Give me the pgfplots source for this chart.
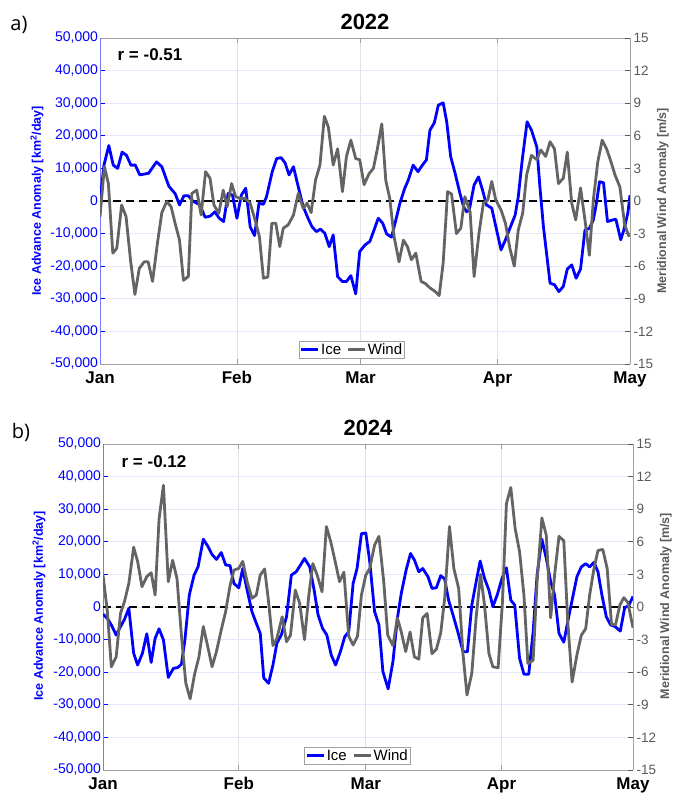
\documentclass[border=0pt]{standalone}
\usepackage{pgfplots}
\pgfplotsset{compat=1.18}
\usepackage{fontspec}
\setmainfont{Liberation Sans}
\newfontfamily\panelfont{Open Sans}
\definecolor{iceblue}{RGB}{0,0,255}
\definecolor{windgray}{RGB}{100,100,100}
\definecolor{rightgray}{RGB}{90,90,90}
\definecolor{gridh}{RGB}{231,231,250}
\definecolor{gridv}{RGB}{226,226,226}
\definecolor{boxgray}{RGB}{160,160,160}
\definecolor{spineblue}{RGB}{120,120,255}

\pgfplotsset{
  common/.style={
    scale only axis, width=530pt, height=326pt, anchor=south west,
    tick align=inside, major tick length=5pt, clip=true,
    scaled y ticks=false, scaled x ticks=false,
  },
  iceaxis/.style={
    common,
    ymin=-50000, ymax=50000,
    ytick={-50000,-40000,-30000,-20000,-10000,0,10000,20000,30000,40000,50000},
    yticklabels={{-50,000},{-40,000},{-30,000},{-20,000},{-10,000},{0},{10,000},{20,000},{30,000},{40,000},{50,000}},
    axis x line*=box, axis y line*=left,
    x axis line style={boxgray, line width=0.8pt, -},
    y axis line style={spineblue, line width=0.8pt, -},
    xtick style={boxgray, line width=0.8pt},
    ytick style={iceblue, line width=0.8pt},
    xmajorgrids, ymajorgrids,
    x grid style={gridv, line width=0.8pt},
    y grid style={gridh, line width=0.8pt},
    yticklabel style={text=iceblue, font=\fontsize{14}{14}\selectfont, xshift=1.5pt},
    xticklabel style={font=\fontsize{17}{17}\selectfont\bfseries, yshift=-4pt},
  },
  windaxis/.style={
    common,
    ymin=-15, ymax=15,
    ytick={-15,-12,-9,-6,-3,0,3,6,9,12,15},
    yticklabels={-15,-12,-9,-6,-3,0,3,6,9,12,15},
    axis x line=none, axis y line*=right,
    y axis line style={boxgray, line width=0.8pt, -},
    ytick style={rightgray, line width=0.8pt},
    yticklabel style={text=rightgray, font=\fontsize{13.5}{13.5}\selectfont},
    legend columns=2,
    legend image code/.code={\draw[##1] (0pt,0pt) -- (17pt,0pt);},
    legend style={anchor=south, draw=boxgray, line width=0.6pt, fill=white,
      font=\fontsize{15}{15}\selectfont, inner xsep=1pt, inner ysep=0.5pt,
      nodes={inner sep=1.5pt},
      /tikz/every even column/.append style={column sep=4pt}},
  },
  iceline/.style={iceblue, line width=2.8pt, line join=round},
  windline/.style={windgray, line width=2.8pt, line join=round},
}

\begin{document}
\begin{tikzpicture}[x=1pt,y=1pt]
\useasboundingbox (0,0) rectangle (672,795);

% ---------------- panel a) 2022 ----------------
\begin{axis}[iceaxis, at={(100pt,431pt)}, xmin=0, xmax=120,
  xtick={0,31,59,90,120}, xticklabels={Jan,Feb,Mar,Apr,May}]
\addplot[black, line width=1.5pt, dash pattern=on 8pt off 5pt] coordinates {(0,0) (120,0)};
\addplot[iceline] coordinates {
(0,0) (0.9,11000) (2,17000) (3,11000) (4,10000) (5,15000) (6,14000) (7,11000) (8,11000) (9,8000)
(11,8500) (12.8,12000) (14,10500) (15.6,4500) (17,2300) (18,-1200) (19,1600) (20,1600) (21,0)
(22.6,-1200) (23.8,-5000) (25,-4600) (26,-3300) (27,-5300) (28,-6300) (29,2300) (30,1800)
(31,-5300) (32,1800) (33,3900) (34,-7900) (35,-10600) (36,-700) (37,-1000) (37.7,1300) (39,9000)
(40,13000) (41,13300) (41.9,11700) (42.8,8000) (43.8,10500) (44.7,5400) (46,-1700) (47.1,-5300)
(48,-7900) (49,-9400) (49.9,-8600) (50.9,-9900) (51.9,-14000) (52.8,-10400) (53.8,-23200)
(54.9,-24700) (55.8,-24700) (56.8,-22900) (57.9,-28500) (58.8,-15500) (60,-13500) (61.1,-12400)
(62.1,-8700) (63,-5300) (64,-6800) (64.9,-10100) (66,-11100) (66.9,-6300) (67.9,-700) (69,3900)
(69.8,6400) (70.9,11000) (72,9000) (73,11000) (73.9,12600) (74.7,21700) (75.7,24000) (76.6,29400)
(77.7,30100) (78.5,24300) (79.4,13600) (80.4,8500) (81.5,2300) (82.3,-1700) (83,-3300) (83.6,-2800)
(84.7,4900) (85.7,7400) (86.6,3400) (87.5,-1200) (88.7,-2200) (89.8,-8900) (90.8,-15000)
(91.8,-11900) (92.8,-8400) (94,-4300) (94.7,1300) (95.6,12600) (96.7,24300) (97.7,21700)
(98.9,16600) (99.6,4400) (100.4,-7900) (101.1,-16000) (101.9,-25200) (102.9,-25700) (103.9,-27800)
(104.9,-26200) (105.8,-20900) (106.8,-19600) (107.8,-23700) (108.8,-20900) (109.8,-8900)
(110.8,-8400) (111.7,-5800) (112.4,-700) (113.1,5900) (114,5600) (114.9,-6300) (116.1,-5800)
(116.8,-5600) (117.9,-11900) (118.6,-8900) (119.5,-3800) (120,1800)
};
\end{axis}
\begin{axis}[windaxis, at={(100pt,431pt)}, xmin=0, xmax=120,
  legend style={at={(0.475,0.018)}}]
\addlegendimage{iceline}
\addlegendentry{Ice}
\addplot[windline] coordinates {
(0,-1.44) (1,3.15) (1.9,1.6) (2.9,-4.8) (3.8,-4.35) (4.9,-0.37) (5.9,-1.44) (6.9,-5.4) (7.9,-8.6)
(8.9,-6.2) (10,-5.6) (10.9,-5.6) (11.9,-7.4) (13,-3.9) (14,-1.07) (15.1,-0.06) (16.1,-0.52)
(17,-2.05) (18,-3.6) (18.9,-7.3) (20,-6.95) (20.8,0.7) (21.9,1.0) (22.9,-1.29) (23.9,2.7)
(24.9,2.1) (25.8,-0.37) (26.9,-1.13) (27.9,1.0) (28.8,-0.52) (29.8,1.6) (30.7,0.4) (31.7,0.24)
(32.8,0.24) (34,-0.2) (35.1,-1.74) (36.1,-3.3) (37,-7.1) (38,-7) (38.9,-2.05) (39.8,-2.05)
(40.7,-4.2) (41.5,-2.5) (42.6,-2.2) (43.8,-1.3) (44.9,0.7) (46,-0.67) (46.9,-0.2) (47.8,-1.07)
(48.8,1.93) (49.8,3.3) (50.8,7.8) (51.7,6.8) (52.8,3.3) (53.8,4.8) (54.9,0.86) (55.8,4.1)
(56.8,5.6) (57.9,3.9) (58.8,3.8) (59.8,1.5) (60.9,2.5) (61.9,3.0) (62.8,4.8) (63.8,7.1) (64.7,1.9)
(65.6,0.24) (66.6,-3.3) (67.7,-5.6) (68.7,-3.6) (69.6,-4.2) (70.5,-5.4) (71.5,-4.8) (72.7,-7.4)
(73.7,-7.6) (74.7,-8) (75.8,-8.3) (76.8,-8.7) (77.7,-5.7) (78.7,0.86) (79.6,0.64) (80.7,-3.0)
(81.7,-2.5) (82.6,0.4) (83.8,-1.0) (84.7,-6.95) (85.8,-3.0) (86.8,-0.2) (87.8,0.1) (88.7,1.8)
(89.6,0.1) (90.8,-0.83) (91.8,-2.05) (92.8,-4.35) (93.8,-6.0) (94.7,-2.66) (95.7,-1.13) (96.6,2.4)
(97.7,4.2) (98.9,3.8) (99.8,4.7) (100.9,4.1) (101.9,5.45) (102.9,4.8) (103.8,1.6) (104.9,2.1)
(105.8,4.5) (106.8,-0.2) (107.7,-1.74) (108.8,1.2) (109.8,-1.74) (110.8,-5.0) (111.7,0.1)
(112.7,3.6) (113.7,5.6) (114.7,4.8) (115.7,3.6) (116.6,2.4) (117.7,1.3) (118.8,-2.2) (119.8,-3.3)
};
\addlegendentry{Wind}
\end{axis}

% ---------------- panel b) 2024 ----------------
\begin{axis}[iceaxis, at={(103pt,25pt)}, xmin=0, xmax=121,
  xtick={0,31,60,91,121}, xticklabels={Jan,Feb,Mar,Apr,May}]
\addplot[black, line width=1.5pt, dash pattern=on 8pt off 5pt] coordinates {(0,0) (121,0)};
\addplot[iceline] coordinates {
(0,-2200) (1,-3500) (1.9,-5500) (3,-8600) (4,-6000) (4.9,-3800) (5.9,-400) (7,-14200) (7.9,-17800)
(9,-14200) (10,-8200) (11,-17000) (11.9,-9600) (12.8,-6700) (13.8,-10100) (14.9,-21600)
(16.1,-18800) (17,-18600) (17.9,-17600) (18.7,-10100) (19.7,3700) (20.8,9800) (21.7,12300)
(22.9,20800) (24,18500) (24.9,16100) (25.9,14600) (27,16700) (28,12900) (29,12700) (29.9,7200)
(31,5900) (31.9,11800) (32.9,5200) (34,-1400) (35,-5000) (35.9,-8100) (36.7,-21800) (37.8,-23400)
(38.8,-17800) (39.7,-11100) (40.7,-8600) (41.9,-3000) (43,9800) (44.1,10800) (45.1,12900)
(46,14900) (47.2,12300) (48.2,5200) (49.1,-2400) (50.1,-6500) (51.1,-8600) (52.1,-14700)
(53.1,-17800) (54.2,-13700) (55.2,-9100) (56.1,-7600) (57.1,7200) (58,11800) (59,22500)
(60,22700) (60.9,13900) (62,-1400) (63,-5500) (63.9,-19800) (65.1,-25100) (66.2,-16700)
(67.2,-3500) (68.1,4200) (69.2,11300) (70.2,16400) (71.1,14400) (72.1,10800) (73,11800)
(74.2,9300) (75.1,5700) (76.1,5900) (77.1,9600) (78,8600) (78.9,2100) (79.9,-2400) (81,-7600)
(82.2,-13700) (83.2,-13700) (84.2,600) (85.2,7800) (86.1,14100) (87.1,8800) (88.1,5200) (89,100)
(90,3700) (91.1,8800) (92.1,12000) (93.1,2100) (94,600) (95.1,-15700) (96.1,-20600) (97.2,-20600)
(98.2,-7600) (99.1,9800) (100.2,20800) (101.2,14900) (102.2,7800) (103.1,3700) (104.1,-8100)
(105.2,-10800) (106.1,-4500) (107.1,2100) (108.2,9300) (109.2,12300) (110.2,13300) (111.1,12300)
(112.1,13700) (113,10800) (113.9,3700) (114.9,-3000) (115.9,-5500) (116.9,-6000) (118.1,-7400)
(119.1,-200) (120,400) (121,3200)
};
\end{axis}
\begin{axis}[windaxis, at={(103pt,25pt)}, xmin=0, xmax=121,
  legend style={at={(0.48,0.018)}}]
\addlegendimage{iceline}
\addlegendentry{Ice}
\addplot[windline] coordinates {
(0,2.94) (1,-0.43) (1.9,-5.5) (3,-4.6) (4,-0.58) (4.9,0.49) (5.9,2.17) (7,5.5) (7.9,4.2) (8.9,1.87)
(10,2.8) (11,3.15) (11.9,1.1) (12.8,8.1) (13.8,11.2) (14.9,2.33) (15.9,4.3) (16.9,2.6) (17.9,-2.6)
(18.9,-7) (19.9,-8.45) (20.9,-6.2) (21.9,-4.6) (22.9,-1.8) (24,-3.8) (24.9,-5.5) (25.9,-4.1)
(27,-2.1) (28,-0.43) (29,1.96) (29.9,3.4) (31,3.55) (31.9,4.2) (32.9,2.33) (34,0.8) (35,1.1)
(35.9,2.94) (36.9,3.5) (37.8,0.49) (38.8,-3.55) (39.7,-2.9) (40.9,-0.9) (41.9,-3.2) (42.8,-2.6)
(43.9,1.56) (44.9,0.34) (46,-3.0) (47,1.1) (47.9,4.0) (48.9,2.94) (50,1.4) (51,7.4) (52,6) (53,4.2)
(54,2.33) (55,3.2) (56.1,-2.7) (57.1,-3.5) (58.1,-2.7) (59,1.1) (60,2.94) (60.9,3.55) (62,5.7)
(63,6.5) (64.1,2.3) (65,-2.6) (66.2,-3.55) (67.2,-1.0) (68.1,-2.3) (69.1,-4.1) (70.1,-2.3)
(71.1,-4.6) (72.1,-4.8) (73,-1.0) (74,-0.6) (75.1,-4.3) (76.1,-3.9) (77.1,-2.4) (78,0.8) (79.1,7.4)
(80.1,3.55) (81.2,1.7) (82.2,-4.4) (83.1,-8.1) (84.2,-6.1) (85.2,-0.9) (86.2,3.0) (87.1,0.18)
(88.1,-4.26) (89,-5.5) (90.2,-5.6) (91.2,0.5) (92.1,9.5) (93.1,11) (94.1,7.2) (95.1,5.1) (96.1,1.1)
(97,-5.2) (98.2,-4.9) (99.1,2.33) (100.2,8.2) (101.2,6.6) (102.2,-1.0) (103.1,2.94) (104.1,6.5)
(105.2,6.1) (106.1,-1.35) (107.1,-6.9) (108.2,-4.4) (109.2,-2.6) (110.2,-2.0) (111.1,1.1)
(112.1,3.55) (113,5.2) (114.1,5.3) (115.1,3.55) (116.1,-1.6) (117,-1.65) (118,0.18) (118.9,0.86)
(119.8,0.43) (121,-1.9)
};
\addlegendentry{Wind}
\end{axis}

% ---------------- texts ----------------
\node[rotate=90, text=iceblue, font=\fontsize{12.5}{12.5}\selectfont\bfseries] at (37,594) {Ice Advance Anomaly [km\textsuperscript{2}/day]};
\node[rotate=90, text=rightgray, font=\fontsize{12.5}{12.5}\selectfont\bfseries] at (663,594) {Meridional Wind Anomaly [m/s]};
\node[font=\fontsize{22}{22}\selectfont\bfseries] at (365,773) {2022};
\node[font=\panelfont\fontsize{20}{20}\selectfont] at (19,770) {a)};
\node[font=\fontsize{17}{17}\selectfont\bfseries] at (150,740) {r = -0.51};

\node[rotate=90, text=iceblue, font=\fontsize{12.5}{12.5}\selectfont\bfseries] at (39,189) {Ice Advance Anomaly [km\textsuperscript{2}/day]};
\node[rotate=90, text=rightgray, font=\fontsize{12.5}{12.5}\selectfont\bfseries] at (666,189) {Meridional Wind Anomaly [m/s]};
\node[font=\fontsize{22}{22}\selectfont\bfseries] at (368,367) {2024};
\node[font=\panelfont\fontsize{20}{20}\selectfont] at (21,363) {b)};
\node[font=\fontsize{17}{17}\selectfont\bfseries] at (154,333) {r = -0.12};
\end{tikzpicture}
\end{document}
